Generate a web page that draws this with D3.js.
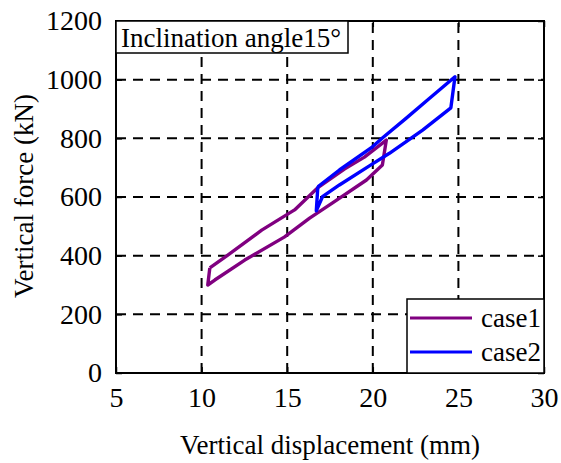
<!DOCTYPE html>
<html>
<head>
<meta charset="utf-8">
<script src="https://cdn.jsdelivr.net/npm/d3@7"></script>
<style>
  html, body { margin: 0; padding: 0; background: #fff; }
  svg { display: block; }
</style>
</head>
<body>
<svg id="chart" width="561" height="463"></svg>
<script>
// ---- data ----
const xTicks = [5, 10, 15, 20, 25, 30];
const yTicks = [0, 200, 400, 600, 800, 1000, 1200];
const seriesNames = ["case1", "case2"];
const seriesColors = ["#800080", "#0000ff"];
// case1 loop (displacement mm, force kN)
const case1X = [10.48, 11.53, 13.51, 15.43, 16.77, 18.34, 19.51, 20.79, 20.56, 19.63, 17.65, 16.31, 14.85, 12.52, 10.77, 10.36, 10.48];
const case1Y = [358, 402, 487, 556, 631, 695, 736, 794, 709, 658, 580, 528, 464, 385, 317, 300, 358];
// case2 loop
const case2X = [16.79, 18.05, 19.98, 20.56, 21.94, 23.30, 24.80, 24.56, 22.91, 20.97, 19.80, 18.05, 17.06, 16.70, 16.79];
const case2Y = [635, 692, 771, 801, 868, 936, 1010, 904, 828, 749, 706, 641, 601, 553, 635];
const titleText = "Inclination angle15°";
const xLabel = "Vertical displacement (mm)";
const yLabel = "Vertical force (kN)";

// ---- layout ----
const L = 116, R = 544, T = 21, B = 373;
const svg = d3.select("#chart");
const x = d3.scaleLinear().domain([5, 30]).range([L, R]);
const y = d3.scaleLinear().domain([0, 1200]).range([B, T]);
const FS = 27, FT = 28;
const FF = '"Liberation Serif", "Times New Roman", Times, "DejaVu Serif", serif';

// grid
const grid = svg.append("g");
grid.selectAll("line.vx").data(xTicks.slice(1, -1)).enter().append("line")
  .attr("x1", d => x(d)).attr("x2", d => x(d)).attr("y1", B).attr("y2", T)
  .attr("stroke", "#000").attr("stroke-width", 2).attr("stroke-dasharray", "10,7");
grid.selectAll("line.hy").data(yTicks.slice(1, -1)).enter().append("line")
  .attr("y1", d => y(d)).attr("y2", d => y(d)).attr("x1", L).attr("x2", R)
  .attr("stroke", "#000").attr("stroke-width", 2).attr("stroke-dasharray", "10,7");

// series
const line = d3.line().x(d => x(d[0])).y(d => y(d[1]));
const seriesData = [
  d3.zip(case1X, case1Y),
  d3.zip(case2X, case2Y)
];
seriesData.forEach((pts, i) => {
  svg.append("path").datum(pts).attr("d", line)
    .attr("fill", "none").attr("stroke", seriesColors[i])
    .attr("stroke-width", 3.4).attr("stroke-linejoin", "round");
});

// axes (ticks inward, mirrored)
const tickLen = 6;
const axB = svg.append("g").attr("transform", `translate(0,${B})`)
  .call(d3.axisBottom(x).tickValues(xTicks).tickSize(-tickLen).tickPadding(14).tickFormat(d3.format("d")));
const axT = svg.append("g").attr("transform", `translate(0,${T})`)
  .call(d3.axisTop(x).tickValues(xTicks).tickSize(-tickLen).tickFormat(""));
const axL = svg.append("g").attr("transform", `translate(${L},0)`)
  .call(d3.axisLeft(y).tickValues(yTicks).tickSize(-tickLen).tickPadding(14).tickFormat(d3.format("d")));
const axR = svg.append("g").attr("transform", `translate(${R},0)`)
  .call(d3.axisRight(y).tickValues(yTicks).tickSize(-tickLen).tickFormat(""));
[axB, axT, axL, axR].forEach(a => {
  a.attr("font-family", FF).attr("font-size", FT);
  a.select(".domain").remove();
  a.selectAll(".tick line").attr("stroke", "#000").attr("stroke-width", 1.5);
  a.selectAll("text").attr("fill", "#000");
});
axB.selectAll("text").attr("dy", "0.71em");

// box
svg.append("rect").attr("x", L).attr("y", T).attr("width", R - L).attr("height", B - T)
  .attr("fill", "none").attr("stroke", "#000").attr("stroke-width", 2);

// axis titles
svg.append("text").attr("x", (L + R) / 2).attr("y", 454).attr("text-anchor", "middle")
  .attr("font-family", FF).attr("font-size", FS).text(xLabel);
svg.append("text").attr("transform", `translate(33,196) rotate(-90)`).attr("text-anchor", "middle")
  .attr("font-family", FF).attr("font-size", FS).text(yLabel);

// title box
const tb = svg.append("g");
tb.append("rect").attr("x", L).attr("y", T).attr("width", 232).attr("height", 32)
  .attr("fill", "#fff").attr("stroke", "#000").attr("stroke-width", 1.5);
tb.append("text").attr("x", L + 5).attr("y", T + 26).attr("font-family", FF).attr("font-size", FS).text(titleText);

// legend
const lg = svg.append("g");
lg.append("rect").attr("x", 407).attr("y", 299).attr("width", R - 407).attr("height", B - 299)
  .attr("fill", "#fff").attr("stroke", "#000").attr("stroke-width", 1.5);
seriesNames.forEach((n, i) => {
  const yy = 318 + i * 34;
  lg.append("line").attr("x1", 410).attr("x2", 472).attr("y1", yy).attr("y2", yy)
    .attr("stroke", seriesColors[i]).attr("stroke-width", 3);
  lg.append("text").attr("x", 481).attr("y", yy + 9).attr("font-family", FF).attr("font-size", FS).text(n);
});
</script>
</body>
</html>
